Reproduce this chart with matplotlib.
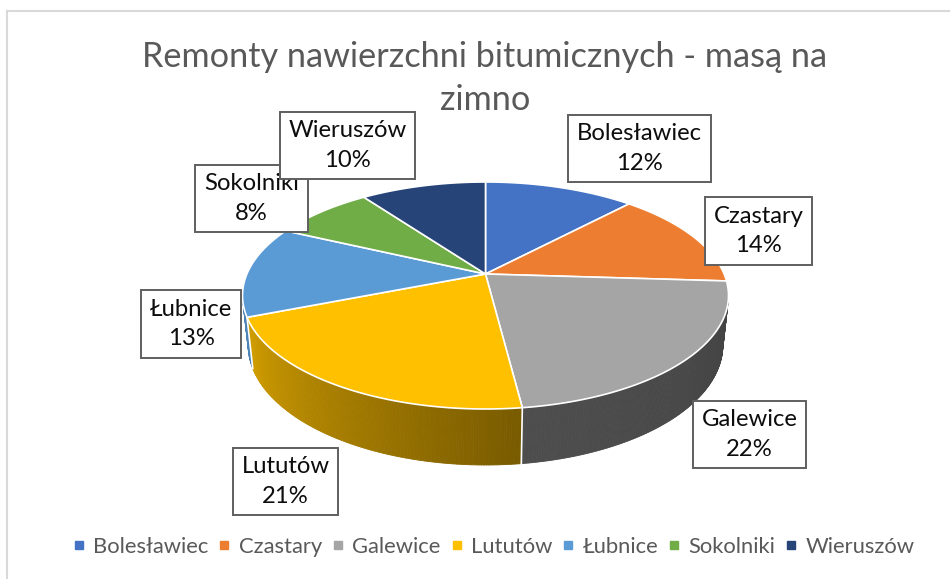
import numpy as np
import matplotlib
matplotlib.use("Agg")
import matplotlib.pyplot as plt
from matplotlib.collections import PolyCollection
from matplotlib.lines import Line2D
from matplotlib.colors import to_rgb

# ---------------- data ----------------
categories = ["Bolesławiec", "Czastary", "Galewice", "Lututów", "Łubnice", "Sokolniki", "Wieruszów"]
values = [12, 14, 22, 21, 13, 8, 10]
colors = ["#4472C4", "#ED7D31", "#A5A5A5", "#FFC000", "#5B9BD5", "#70AD47", "#264478"]
title_text = "Remonty nawierzchni bitumicznych - masą na\nzimno"

plt.rcParams['font.family'] = ['Lato', 'DejaVu Sans']

W, H = 950, 579
fig = plt.figure(figsize=(W / 100, H / 100), dpi=100)
ax = fig.add_axes([0, 0, 1, 1])
ax.set_xlim(0, W)
ax.set_ylim(H, 0)
ax.axis('off')

# ---------------- perspective model of the 3D pie ----------------
cx, cy = 485.5, 274.0          # screen position of pie centre
alpha = np.arcsin(0.4586)      # elevation of camera
s, c = np.sin(alpha), np.cos(alpha)
Dcam = 4.691                   # camera distance (in radii)
fpx = 1119.3                   # focal length (px)
hgt = 0.2347                   # pie thickness (in radii)


def proj(theta_deg, y=0.0):
    t = np.radians(theta_deg)
    x = np.sin(t)
    z = -np.cos(t)
    v = -z * s + y * c
    d = Dcam - z * c - y * s
    return cx + fpx * x / d, cy - fpx * v / d


vals = np.array(values, dtype=float)
fracs = vals / vals.sum()
bounds = np.concatenate([[0], np.cumsum(fracs) * 360.0])

theta_vis = np.degrees(np.arccos(-1.0 / (Dcam * c)))
vis_lo, vis_hi = theta_vis, 360 - theta_vis


def shade(theta):
    return np.interp(theta, [vis_lo, 172.8, 256.0], [0.41, 0.47, 0.86])


# side faces
polys, fcs = [], []
side_bounds = []
for i, col in enumerate(colors):
    a, b = bounds[i], bounds[i + 1]
    lo, hi = max(a, vis_lo), min(b, vis_hi)
    if hi <= lo:
        continue
    n = max(2, int((hi - lo) / 0.5))
    ts = np.linspace(lo, hi, n + 1)
    base = np.array(to_rgb(col))
    for t0, t1 in zip(ts[:-1], ts[1:]):
        p0 = proj(t0); p1 = proj(t1)
        q1 = proj(t1, -hgt); q0 = proj(t0, -hgt)
        polys.append([p0, p1, q1, q0])
        fcs.append(np.clip(base * shade(0.5 * (t0 + t1)), 0, 1))
    for tb in (a, b):
        if vis_lo < tb < vis_hi:
            side_bounds.append(tb)

pc = PolyCollection(polys, facecolors=fcs, edgecolors=fcs, linewidths=0.6, zorder=2)
ax.add_collection(pc)
for tb in set(side_bounds):
    p = proj(tb); q = proj(tb, -hgt)
    ax.plot([p[0], q[0]], [p[1], q[1]], color='white', lw=1.2, zorder=3)

# top faces
for i, col in enumerate(colors):
    a, b = bounds[i], bounds[i + 1]
    ts = np.linspace(a, b, max(3, int((b - a) / 0.5)))
    pts = [(cx, cy)] + [proj(t) for t in ts]
    ax.add_patch(plt.Polygon(pts, closed=True, facecolor=col, edgecolor='white',
                             lw=1.2, joinstyle='round', zorder=4))

# ---------------- data labels ----------------
label_pos = [(639.5, 148.5), (758.5, 231.0), (749.5, 434.5), (285.5, 481.5),
             (191.0, 324.0), (251.5, 198.5), (347.5, 145.5)]
label_z = [6, 6, 6, 6, 6, 6, 7]
for i, (cat, v) in enumerate(zip(categories, values)):
    pct = f"{round(100 * v / vals.sum())}%"
    ax.text(label_pos[i][0], label_pos[i][1], f"{cat}\n{pct}", ha='center', va='center',
            multialignment='center', fontsize=17.2, color='#0d0d0d', linespacing=1.5,
            zorder=label_z[i],
            bbox=dict(boxstyle='square,pad=0.36', fc='white', ec='#5f5f5f', lw=1.4))

# ---------------- title ----------------
ax.text(485, 78.5, title_text, ha='center', va='center', fontsize=24.7, color='#595959',
        linespacing=1.42, zorder=5)

# ---------------- legend ----------------
handles = [Line2D([], [], marker='s', linestyle='none', markersize=5.2,
                  markerfacecolor=col, markeredgecolor=col) for col in colors]
ax.legend(handles, categories, loc='center', bbox_to_anchor=(0.5195, 1 - 547 / H),
          ncol=7, frameon=False, fontsize=15.8, labelcolor='#595959',
          handlelength=0.6, handletextpad=0.36, columnspacing=0.42,
          borderaxespad=0, borderpad=0)

# ---------------- chart frame ----------------
ax.plot([6.5, 6.5], [10.5, H], color='#d9d9d9', lw=1.5, zorder=1)
ax.plot([6.5, W], [10.5, 10.5], color='#d9d9d9', lw=1.5, zorder=1)

fig.savefig("out.png", dpi=100)
